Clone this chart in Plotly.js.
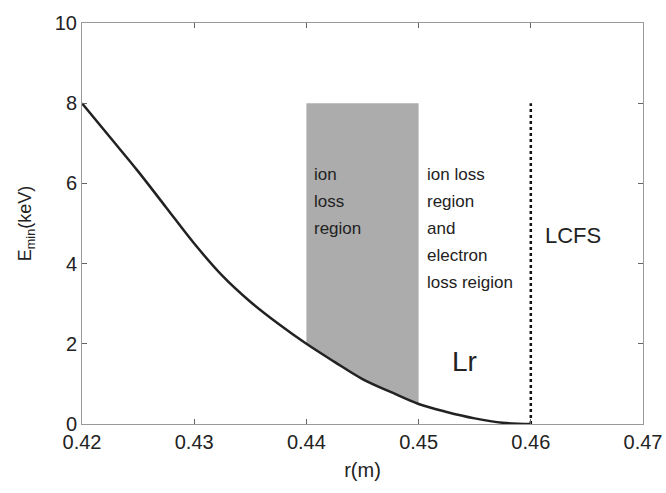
<!DOCTYPE html>
<html><head><meta charset="utf-8">
<script src="https://cdn.plot.ly/plotly-3.0.1.min.js"></script>
<style>body{margin:0;background:#fff}#c{width:666px;height:493px}</style>
</head><body><div id="c"></div>
<script>
// Curve E_min(r)
const rVals = [0.42, 0.4225, 0.425, 0.4275, 0.43, 0.4325, 0.435, 0.4375, 0.44, 0.4425, 0.445, 0.4475, 0.45, 0.4525, 0.455, 0.4575, 0.46];
const eVals = [8.0, 7.15, 6.3, 5.4, 4.5, 3.7, 3.05, 2.5, 2.0, 1.55, 1.12, 0.8, 0.5, 0.3, 0.14, 0.03, 0.0];
// Shaded ion loss region bounds
const regionX = [0.44, 0.45];
const regionTop = 8;
// LCFS position
const lcfsR = 0.46;
const lcfsY = [0, 8];
const xTicks = [0.42, 0.43, 0.44, 0.45, 0.46, 0.47];
const xTickText = ['0.42', '0.43', '0.44', '0.45', '0.46', '0.47'];
const yTicks = [0, 2, 4, 6, 8, 10];
// Label lines
const ionLines = ['ion', 'loss', 'region'];
const bothLines = ['ion loss', 'region', 'and', 'electron', 'loss reigion'];

// Build shaded region from curve
const segX = [], segY = [];
rVals.forEach((r, i) => { if (r >= regionX[0] - 1e-9 && r <= regionX[1] + 1e-9) { segX.push(r); segY.push(eVals[i]); } });

const traces = [
  {x: segX, y: segX.map(() => regionTop), mode: 'lines', line: {width: 0, color: 'rgba(0,0,0,0)'}, hoverinfo: 'skip', showlegend: false},
  {x: segX, y: segY, mode: 'lines', line: {width: 0, color: 'rgba(0,0,0,0)'}, fill: 'tonexty', fillcolor: '#acacac', hoverinfo: 'skip', showlegend: false},
  {x: [lcfsR, lcfsR], y: lcfsY, mode: 'lines', line: {color: '#111', width: 2.5, dash: 'dot'}, showlegend: false},
  {x: rVals, y: eVals, mode: 'lines', line: {color: '#222', width: 2.5, shape: 'spline'}, showlegend: false}
];

const font = 'Liberation Sans, Arial, sans-serif';
const lineY0 = 6.22, lineStep = 0.67;
const annotations = [];
ionLines.forEach((t, i) => annotations.push({x: 0.4405, y: lineY0 - i * lineStep, xref: 'x', yref: 'y', xanchor: 'left', yanchor: 'middle',
  showarrow: false, text: t, font: {size: 17, family: font, color: '#222'}}));
bothLines.forEach((t, i) => annotations.push({x: 0.4506, y: lineY0 - i * lineStep, xref: 'x', yref: 'y', xanchor: 'left', yanchor: 'middle',
  showarrow: false, text: t, font: {size: 17, family: font, color: '#222'}}));
annotations.push({x: 0.4611, y: 4.7, xref: 'x', yref: 'y', xanchor: 'left', yanchor: 'middle', showarrow: false,
  text: 'LCFS', font: {size: 22, family: font, color: '#222'}});
annotations.push({x: 0.4541, y: 1.55, xref: 'x', yref: 'y', xanchor: 'center', yanchor: 'middle', showarrow: false,
  text: 'Lr', font: {size: 28, family: font, color: '#222'}});

const layout = {
  width: 666, height: 493,
  margin: {l: 82, r: 23, t: 23, b: 69},
  paper_bgcolor: '#fff', plot_bgcolor: '#fff',
  font: {family: font, color: '#222'},
  xaxis: {range: [0.42, 0.47], tickvals: xTicks, ticktext: xTickText, ticks: 'inside', ticklen: 5, tickcolor: '#666',
    showline: true, linecolor: '#999', linewidth: 1, mirror: 'ticks', showgrid: false, zeroline: false,
    tickfont: {size: 20, family: font, color: '#222'},
    title: {text: 'r(m)', font: {size: 20, family: font, color: '#222'}, standoff: 10}},
  yaxis: {range: [0, 10], tickvals: yTicks, ticks: 'inside', ticklen: 5, tickcolor: '#666',
    showline: true, linecolor: '#999', linewidth: 1, mirror: 'ticks', showgrid: false, zeroline: false,
    tickfont: {size: 20, family: font, color: '#222'},
    title: {text: 'E<sub>min</sub>(keV)', font: {size: 18, family: font, color: '#222'}, standoff: 18}},
  annotations: annotations
};
Plotly.newPlot('c', traces, layout, {displayModeBar: false, staticPlot: true});
</script></body></html>
